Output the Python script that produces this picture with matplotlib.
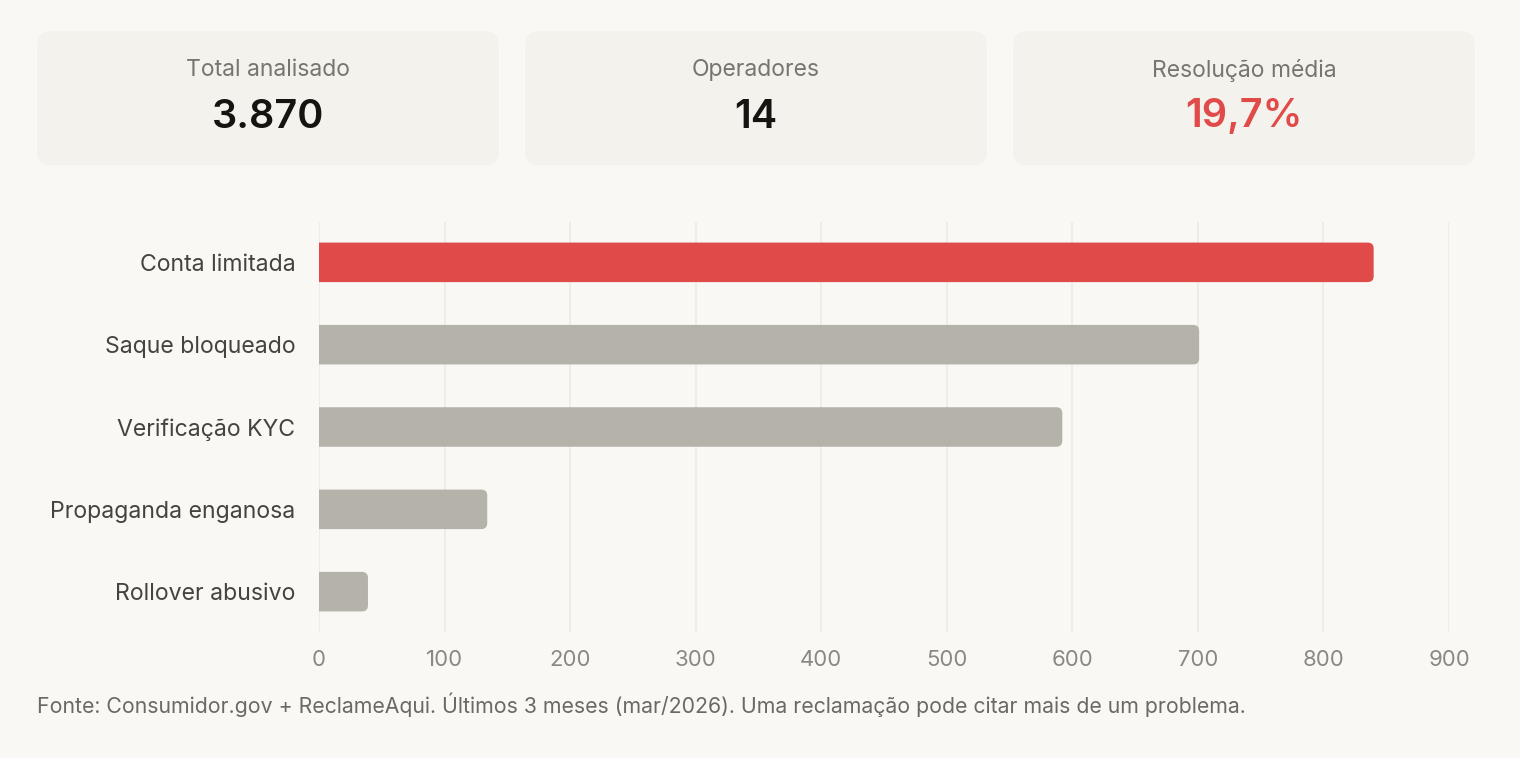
import matplotlib.pyplot as plt
from matplotlib.patches import FancyBboxPatch

plt.rcParams['font.family'] = ['Inter', 'DejaVu Sans']

# data
categorias = ['Conta limitada', 'Saque bloqueado', 'Verificação KYC',
              'Propaganda enganosa', 'Rollover abusivo']
valores = [840, 701, 592, 134, 39]
destaque = [True, False, False, False, False]

card_titulos = ['Total analisado', 'Operadores', 'Resolução média']
card_valores = ['3.870', '14', '19,7%']
card_cores = ['#151411', '#151411', '#e04b4a']

xticks = [0, 100, 200, 300, 400, 500, 600, 700, 800, 900]
fonte = ('Fonte: Consumidor.gov + ReclameAqui. Últimos 3 meses (mar/2026). '
         'Uma reclamação pode citar mais de um problema.')

BG = '#f9f8f4'
W, H = 1520, 758
fig = plt.figure(figsize=(W / 100, H / 100), dpi=100, facecolor=BG)

# background axes in pixel coords for the cards and footer
bg = fig.add_axes([0, 0, 1, 1])
bg.set_xlim(0, W)
bg.set_ylim(H, 0)
bg.axis('off')

card_x = [37, 525, 1013]
for x0, t, v, c in zip(card_x, card_titulos, card_valores, card_cores):
    bg.add_patch(FancyBboxPatch((x0, 31), 462, 134,
                                boxstyle='round,pad=0,rounding_size=14',
                                fc='#f3f2ec', ec='none'))
    bg.text(x0 + 231, 70, t, ha='center', va='center', fontsize=16.5,
            color='#77756f')
    bg.text(x0 + 231, 117, v, ha='center', va='center', fontsize=28.5,
            color=c, fontweight='semibold')

bg.text(37, 705, fonte, ha='left', va='center', fontsize=15.3, color='#6b6963')

# bar chart
ax = fig.add_axes([319 / W, 1 - 632 / H, 1130 / W, 410 / H])
ax.set_facecolor('none')
ax.set_xlim(0, 900)
ax.set_ylim(len(categorias) - 0.51, -0.49)

bar_h = 0.48
r_x = 6 / 1.2556
aspect = (1 / 83) / (1 / 1.2556)
for i, (v, d) in enumerate(zip(valores, destaque)):
    cor = '#e04b4a' if d else '#b5b2aa'
    # start left of zero; the axes clip squares off the left end
    ax.add_patch(FancyBboxPatch((-2 * r_x, i - bar_h / 2), v + 2 * r_x, bar_h,
                                boxstyle=f'round,pad=0,rounding_size={r_x}',
                                mutation_aspect=aspect, fc=cor, ec='none', zorder=3))

ax.set_yticks(range(len(categorias)))
ax.set_yticklabels(categorias, fontsize=16.6, color='#45433e')
ax.set_xticks(xticks)
ax.set_xticklabels([str(t) for t in xticks], fontsize=15.9, color='#8a8882')
ax.tick_params(axis='y', length=0, pad=17)
ax.tick_params(axis='x', length=0, pad=13)
ax.grid(axis='x', color='#ecebe6', lw=1.3, zorder=0)
ax.set_axisbelow(True)
for s in ax.spines.values():
    s.set_visible(False)

fig.savefig('out.png', dpi=100, facecolor=BG)
